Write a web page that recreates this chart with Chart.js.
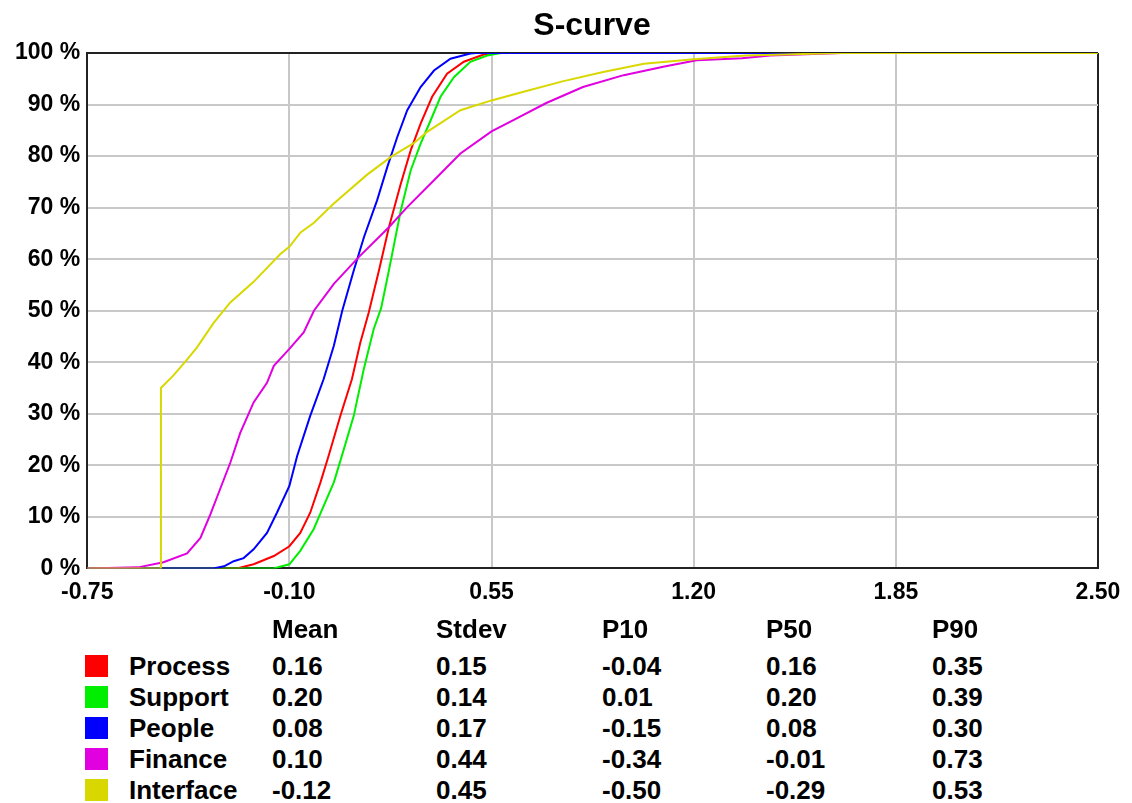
<!DOCTYPE html>
<html>
<head>
<meta charset="utf-8">
<title>S-curve</title>
<script src="https://cdn.jsdelivr.net/npm/chart.js@4"></script>
<style>
body { margin: 0; background: #fff; }
#wrap { position: relative; width: 1132px; height: 803px; font-family: "Liberation Sans", Arial, sans-serif; font-weight: bold; color: #000; }
#canvas { position: absolute; left: 0; top: 0; }
#title { position: absolute; left: 392px; width: 400px; top: 6px; text-align: center; font-size: 32px; line-height: 36px; }
.cell { position: absolute; font-size: 26px; line-height: 30px; white-space: nowrap; }
.swatch { position: absolute; width: 23px; height: 22px; }
</style>
</head>
<body>
<div id="wrap">
  <canvas id="canvas" width="1132" height="624"></canvas>
  <div id="title">S-curve</div>
</div>
<script>
// x = value, y = cumulative %
var processX = [-0.75, -0.269, -0.215, -0.15, -0.10, -0.065, -0.033, 0.0, 0.026, 0.064, 0.101, 0.128, 0.155, 0.188, 0.22, 0.258, 0.29, 0.322, 0.359, 0.407, 0.461, 0.525, 0.56, 2.50];
var processY = [0, 0, 0.8, 2.4, 4.3, 6.9, 10.8, 16.7, 21.8, 29.6, 36.7, 43.8, 49.6, 57.8, 66.2, 74.6, 81.1, 86.3, 91.5, 96, 98.3, 99.7, 100, 100];

var supportX = [-0.75, -0.151, -0.10, -0.065, -0.022, 0.01, 0.043, 0.075, 0.107, 0.139, 0.171, 0.195, 0.22, 0.258, 0.29, 0.322, 0.354, 0.386, 0.429, 0.482, 0.536, 0.58, 2.50];
var supportY = [0, 0, 0.8, 3.4, 7.6, 12.1, 16.7, 23.1, 29.6, 38.6, 46.4, 50.5, 57.8, 69.4, 77.2, 82.4, 86.9, 91.5, 95.3, 98.3, 99.5, 100, 100];

var peopleX = [-0.75, -0.345, -0.310, -0.279, -0.247, -0.215, -0.172, -0.14, -0.10, -0.075, -0.033, 0.01, 0.043, 0.07, 0.107, 0.14, 0.182, 0.215, 0.247, 0.279, 0.322, 0.365, 0.418, 0.482, 0.50, 2.50];
var peopleY = [0, 0, 0.4, 1.4, 2, 3.7, 6.9, 10.8, 16, 21.8, 29.6, 36.7, 43.2, 50, 57.8, 64.3, 71.4, 77.9, 83.7, 88.9, 93.4, 96.6, 98.9, 99.9, 100, 100];

var financeX = [-0.75, -0.586, -0.505, -0.429, -0.386, -0.354, -0.322, -0.29, -0.258, -0.215, -0.172, -0.15, -0.10, -0.054, -0.021, 0.043, 0.123, 0.22, 0.279, 0.365, 0.45, 0.55, 0.614, 0.726, 0.844, 0.975, 1.106, 1.21, 1.355, 1.446, 1.676, 2.50];
var financeY = [0, 0.2, 1.2, 2.9, 5.9, 10.5, 15.5, 20.5, 26.3, 32.2, 36, 39.3, 42.6, 45.8, 50, 55.2, 60.4, 66.2, 70.1, 75.3, 80.5, 84.8, 86.8, 90.3, 93.4, 95.7, 97.4, 98.6, 99, 99.5, 100, 100];

var interfaceX = [-0.75, -0.513, -0.513, -0.472, -0.429, -0.397, -0.344, -0.29, -0.215, -0.129, -0.10, -0.064, -0.022, 0.043, 0.15, 0.23, 0.30, 0.343, 0.45, 0.55, 0.647, 0.778, 0.909, 1.04, 1.2, 1.368, 1.67, 2.50];
var interfaceY = [0, 0, 35, 37.5, 40.5, 42.9, 47.6, 51.6, 55.6, 61, 62.4, 65.2, 67, 70.8, 76.4, 80, 82.5, 84.7, 88.9, 90.8, 92.4, 94.5, 96.3, 97.9, 98.8, 99.5, 100, 100];

var xTicks = [-0.75, -0.10, 0.55, 1.20, 1.85, 2.50];

// stats table
var seriesNames = ['Process', 'Support', 'People', 'Finance', 'Interface'];
var seriesColors = ['#ff0000', '#00ee00', '#0000ff', '#e000e0', '#d8d800'];
var statHeaders = ['Mean', 'Stdev', 'P10', 'P50', 'P90'];
var meanVals = ['0.16', '0.20', '0.08', '0.10', '-0.12'];
var stdevVals = ['0.15', '0.14', '0.17', '0.44', '0.45'];
var p10Vals = ['-0.04', '0.01', '-0.15', '-0.34', '-0.50'];
var p50Vals = ['0.16', '0.20', '0.08', '-0.01', '-0.29'];
var p90Vals = ['0.35', '0.39', '0.30', '0.73', '0.53'];

function toPoints(xs, ys) {
    return xs.map(function(x, i) { return {x: x, y: ys[i]}; });
}

function lineSet(i, xs, ys, order) {
    return {
        label: seriesNames[i],
        data: toPoints(xs, ys),
        borderColor: seriesColors[i],
        backgroundColor: seriesColors[i],
        borderWidth: 2,
        pointRadius: 0,
        tension: 0,
        fill: false,
        order: order
    };
}

var tickFont = {family: 'Liberation Sans', size: 23, weight: 'bold'};

window.onload = function() {
    var ctx = document.getElementById('canvas').getContext('2d');
    window.sCurve = new Chart(ctx, {
        type: 'line',
        data: {
            datasets: [
                lineSet(0, processX, processY, 5),
                lineSet(1, supportX, supportY, 4),
                lineSet(2, peopleX, peopleY, 3),
                lineSet(3, financeX, financeY, 2),
                lineSet(4, interfaceX, interfaceY, 1)
            ]
        },
        options: {
            responsive: false,
            animation: false,
            layout: {padding: {left: 8, right: 34, top: 53, bottom: 8}},
            plugins: {
                legend: {display: false},
                tooltip: {enabled: false},
                title: {display: false}
            },
            scales: {
                x: {
                    type: 'linear',
                    min: -0.75,
                    max: 2.50,
                    afterBuildTicks: function(axis) {
                        axis.ticks = xTicks.map(function(v) { return {value: v}; });
                    },
                    ticks: {
                        color: '#000',
                        font: tickFont,
                        padding: 10,
                        maxRotation: 0,
                        callback: function(v) { return Number(v).toFixed(2); }
                    },
                    grid: {
                        drawTicks: false,
                        lineWidth: 2,
                        color: function(c) { return c.tick && Math.abs(c.tick.value - 2.5) < 1e-6 ? '#222' : '#c8c8c8'; }
                    },
                    border: {color: '#222', width: 2}
                },
                y: {
                    min: 0,
                    max: 100,
                    ticks: {
                        stepSize: 10,
                        color: '#000',
                        font: tickFont,
                        padding: 7,
                        callback: function(v) { return v + ' %'; }
                    },
                    grid: {
                        drawTicks: false,
                        lineWidth: 2,
                        color: function(c) { return c.tick && c.tick.value === 100 ? '#222' : '#c8c8c8'; }
                    },
                    border: {color: '#222', width: 2}
                }
            }
        }
    });

    // stats table under the chart
    var wrap = document.getElementById('wrap');
    var colLeft = [272, 436, 602, 766, 932];
    var cols = [meanVals, stdevVals, p10Vals, p50Vals, p90Vals];
    function addCell(text, left, top) {
        var d = document.createElement('div');
        d.className = 'cell';
        d.textContent = text;
        d.style.left = left + 'px';
        d.style.top = top + 'px';
        wrap.appendChild(d);
    }
    statHeaders.forEach(function(h, j) { addCell(h, colLeft[j], 614); });
    seriesNames.forEach(function(name, i) {
        var center = 666 + i * 31;
        var sw = document.createElement('div');
        sw.className = 'swatch';
        sw.style.left = '85px';
        sw.style.top = (center - 11) + 'px';
        sw.style.background = seriesColors[i];
        wrap.appendChild(sw);
        addCell(name, 129, center - 15);
        cols.forEach(function(vals, j) { addCell(vals[i], colLeft[j], center - 15); });
    });
};
</script>
</body>
</html>
